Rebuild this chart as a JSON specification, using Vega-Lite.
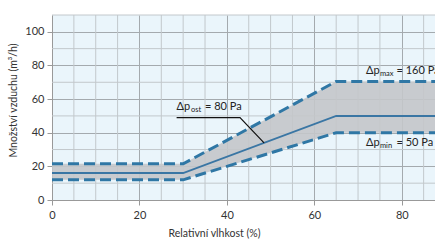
{
  "$schema": "https://vega.github.io/schema/vega-lite/v6.json",
  "width": 383,
  "height": 185,
  "autosize": {"type": "none"},
  "padding": {"left": 52, "top": 15, "right": 0, "bottom": 42},
  "background": "white",
  "config": {
    "view": {"fill": "#eaf5fb", "stroke": null},
    "font": "Lato",
    "axis": {
      "labelFont": "Lato",
      "titleFont": "Lato",
      "labelFontSize": 11,
      "titleFontSize": 10.5,
      "titleFontWeight": "normal",
      "labelColor": "#333",
      "titleColor": "#333",
      "labelOverlap": false,
      "domainColor": "#999",
      "gridWidth": 1,
      "gridOpacity": 1,
      "tickColor": "#999",
      "tickSize": 5
    }
  },
  "resolve": {"axis": {"x": "independent", "y": "independent"}},
  "datasets": {
    "band": [
      {"x": 0, "lo": 12, "mid": 16, "hi": 21.5},
      {"x": 30, "lo": 12, "mid": 16, "hi": 21.5},
      {"x": 65, "lo": 40, "mid": 50, "hi": 70.5},
      {"x": 87.6, "lo": 40, "mid": 50, "hi": 70.5}
    ],
    "vgrid": [
      {"v": 5}, {"v": 10}, {"v": 15}, {"v": 25}, {"v": 30}, {"v": 35}, {"v": 45}, {"v": 50}, {"v": 55}, {"v": 65}, {"v": 70}, {"v": 75}, {"v": 85}
    ],
    "hgrid": [
      {"v": 10}, {"v": 30}, {"v": 50}, {"v": 70}, {"v": 90}, {"v": 110}
    ],
    "leader": [
      {"x": 28.5, "y": 49, "o": 1},
      {"x": 43, "y": 49, "o": 2},
      {"x": 48.5, "y": 34, "o": 3}
    ],
    "labels": [
      {"x": 28.5, "y": 55.5, "t": "Δp", "k": "main"},
      {"x": 31.8, "y": 55.5, "t": "ost", "k": "sub"},
      {"x": 35.0, "y": 55.5, "t": "= 80 Pa", "k": "main"},
      {"x": 71.8, "y": 77, "t": "Δp", "k": "main"},
      {"x": 75.0, "y": 77, "t": "max", "k": "sub"},
      {"x": 78.8, "y": 77, "t": "= 160 Pa", "k": "main"},
      {"x": 71.8, "y": 34, "t": "Δp", "k": "main"},
      {"x": 75.0, "y": 34, "t": "min", "k": "sub"},
      {"x": 78.8, "y": 34, "t": "= 50 Pa", "k": "main"}
    ]
  },
  "layer": [
    {
      "data": {"name": "vgrid"},
      "mark": {"type": "rule", "color": "#c2c8cc", "strokeWidth": 1},
      "encoding": {
        "x": {
          "field": "v", "type": "quantitative", "axis": null,
          "scale": {"domain": [0, 87.6], "nice": false, "zero": false}
        },
        "y": {"datum": 0, "type": "quantitative", "axis": null, "scale": {"domain": [0, 110], "nice": false}},
        "y2": {"datum": 110}
      }
    },
    {
      "data": {"name": "hgrid"},
      "mark": {"type": "rule", "color": "#c2c8cc", "strokeWidth": 1},
      "encoding": {
        "y": {"field": "v", "type": "quantitative", "axis": null},
        "x": {"datum": 0, "type": "quantitative", "axis": null},
        "x2": {"datum": 87.6}
      }
    },
    {
      "data": {"name": "band"},
      "mark": {"type": "area", "color": "#c4c7ca", "opacity": 0.9, "clip": true},
      "encoding": {
        "x": {"field": "x", "type": "quantitative", "axis": null},
        "y": {"field": "lo", "type": "quantitative", "axis": null},
        "y2": {"field": "hi"}
      }
    },
    {
      "data": {"name": "band"},
      "mark": {"type": "line", "color": "#2f77a5", "strokeWidth": 3, "strokeDash": [11, 5], "clip": true},
      "encoding": {
        "x": {
          "field": "x", "type": "quantitative",
          "axis": {
            "orient": "bottom",
            "values": [0,20,40,60,80],
            "grid": true, "gridColor": "#a4aaae",
            "title": "Relativní vlhkost (%)",
            "titleX": 162,
            "titlePadding": 8,
            "labelPadding": 4,
            "labelFlush": false
          }
        },
        "y": {
          "field": "hi", "type": "quantitative",
          "axis": {
            "orient": "left",
            "values": [0,20,40,60,80,100],
            "grid": true, "gridColor": "#a4aaae",
            "title": "Množství vzduchu (m³/h)",
            "titleY": 85,
            "titlePadding": 6,
            "labelPadding": 3
          }
        }
      }
    },
    {
      "data": {"name": "band"},
      "mark": {"type": "line", "color": "#2f77a5", "strokeWidth": 3, "strokeDash": [11, 5], "clip": true},
      "encoding": {
        "x": {"field": "x", "type": "quantitative", "axis": null},
        "y": {"field": "lo", "type": "quantitative", "axis": null}
      }
    },
    {
      "data": {"name": "band"},
      "mark": {"type": "line", "color": "#3a76a4", "strokeWidth": 2, "clip": true},
      "encoding": {
        "x": {"field": "x", "type": "quantitative", "axis": null},
        "y": {"field": "mid", "type": "quantitative", "axis": null}
      }
    },
    {
      "data": {"name": "leader"},
      "mark": {"type": "line", "color": "#111", "strokeWidth": 1.2},
      "encoding": {
        "x": {"field": "x", "type": "quantitative", "axis": null},
        "y": {"field": "y", "type": "quantitative", "axis": null},
        "order": {"field": "o"}
      }
    },
    {
      "data": {"name": "labels"},
      "transform": [{"filter": "datum.k === 'main'"}],
      "mark": {"type": "text", "align": "left", "baseline": "middle", "fontSize": 11, "color": "#222", "font": "Lato"},
      "encoding": {
        "x": {"field": "x", "type": "quantitative", "axis": null},
        "y": {"field": "y", "type": "quantitative", "axis": null},
        "text": {"field": "t"}
      }
    },
    {
      "data": {"name": "labels"},
      "transform": [{"filter": "datum.k === 'sub'"}],
      "mark": {"type": "text", "align": "left", "baseline": "middle", "fontSize": 7.5, "dy": 3, "color": "#222", "font": "Lato"},
      "encoding": {
        "x": {"field": "x", "type": "quantitative", "axis": null},
        "y": {"field": "y", "type": "quantitative", "axis": null},
        "text": {"field": "t"}
      }
    }
  ]
}
